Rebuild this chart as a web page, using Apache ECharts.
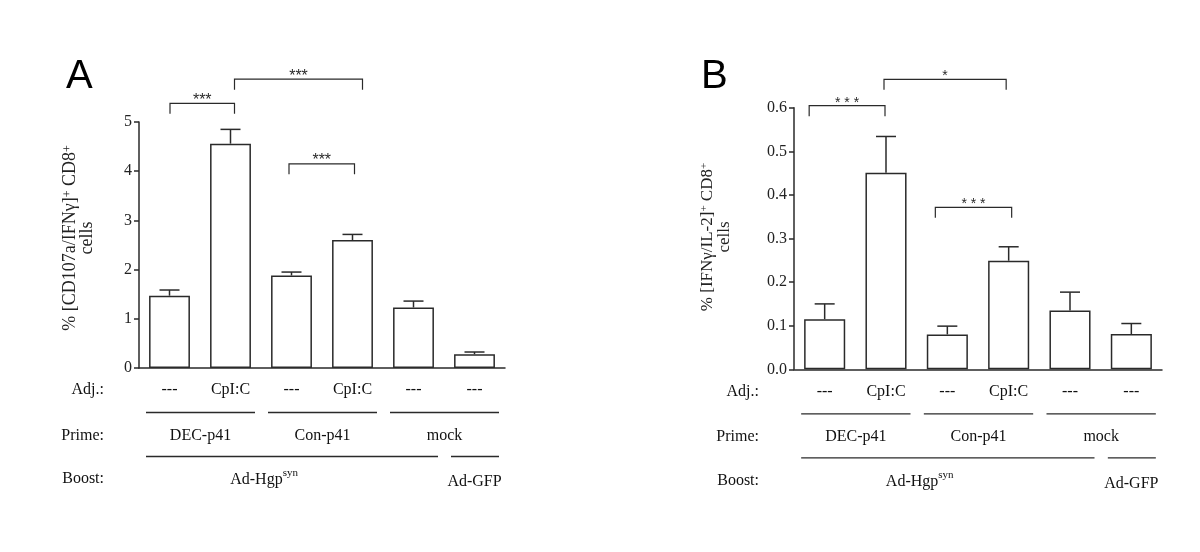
<!DOCTYPE html>
<html><head><meta charset="utf-8">
<script src="https://cdn.jsdelivr.net/npm/echarts@6/dist/echarts.min.js"></script>
<style>html,body{margin:0;padding:0;background:#fff}#c{width:1200px;height:552px}</style>
</head><body><div id="c"></div>
<script>
// ---------- data ----------
const adjLabels = ['---', 'CpI:C', '---', 'CpI:C', '---', '---'];
const primeGroups = [['DEC-p41', 0, 1], ['Con-p41', 2, 3], ['mock', 4, 5]];
const boostGroups = [['Ad-Hgp', 'syn', 0, 4], ['Ad-GFP', '', 5, 5]];
const rowTitles = ['Adj.:', 'Prime:', 'Boost:'];

const meanA = [1.47, 4.56, 1.88, 2.60, 1.23, 0.28];
const errA  = [0.115, 0.29, 0.07, 0.115, 0.13, 0.045];
const meanB = [0.115, 0.451, 0.080, 0.249, 0.135, 0.081];
const errB  = [0.035, 0.083, 0.019, 0.032, 0.042, 0.024];

const compA = [[0, 1, '***'], [1, 3, '***'], [2, 3, '***']];
const compB = [[0, 1, '***'], [1, 3, '*'], [2, 3, '***']];

const ticksA = ['0', '1', '2', '3', '4', '5'];
const ticksB = ['0.0', '0.1', '0.2', '0.3', '0.4', '0.5', '0.6'];

const yTitleA = '% [CD107a/IFNγ]';
const yTitleB = '% [IFNγ/IL-2]';

// ---------- layout / style ----------
const SERIF = '"Liberation Serif","Times New Roman",serif';
const SANS = '"Liberation Sans",Arial,sans-serif';
const INK = '#2a2a2a';
const LW = 1.5;

// bracket layout: [level (data units), x offset start px, x offset end px]
const brLayoutA = [[5.38, 0.5, 4], [5.87, 4, 10], [4.15, -2.5, 2]];
const brLayoutB = [[0.6046, -15.5, -1], [0.665, -2, -2.5], [0.3716, -12, 3]];
const boostLabelAt = [1.55, 5];

const chart = echarts.init(document.getElementById('c'));

function errRender(means, errs) {
  return function (params, api) {
    const i = params.dataIndex;
    const p0 = api.coord([i, means[i]]);
    const p1 = api.coord([i, means[i] + errs[i]]);
    const hw = 10;
    return {
      type: 'group', children: [
        { type: 'line', shape: { x1: p0[0], y1: p0[1], x2: p1[0], y2: p1[1] }, style: { stroke: INK, lineWidth: LW } },
        { type: 'line', shape: { x1: p1[0] - hw, y1: p1[1], x2: p1[0] + hw, y2: p1[1] }, style: { stroke: INK, lineWidth: LW } }
      ]
    };
  };
}

function bracketRender(comps, layout, starFont, sep) {
  return function (params, api) {
    const k = params.dataIndex;
    const c = comps[k], L = layout[k];
    const a = api.coord([c[0], L[0]]);
    const b = api.coord([c[1], L[0]]);
    const x1 = a[0] + L[1], x2 = b[0] + L[2], y = a[1];
    const leg = 10.5;
    return {
      type: 'group', children: [
        { type: 'polyline', shape: { points: [[x1, y + leg], [x1, y], [x2, y], [x2, y + leg]] }, style: { stroke: INK, lineWidth: 1.2, fill: null } },
        { type: 'text', style: { text: c[2].split('').join(sep), x: (x1 + x2) / 2, y: y - 3, align: 'center', verticalAlign: 'middle', font: starFont, fill: INK } }
      ]
    };
  };
}

function tableRender(params, api) {
  const cs = params.coordSys;
  const y0 = api.coord([0, 0])[1];
  const cx = (i) => api.coord([i, 0])[0];
  const children = [];
  const seg = (from, to, y) => ({ type: 'line', shape: { x1: cx(from) - 23.5, y1: y, x2: cx(to) + 24.5, y2: y }, style: { stroke: INK, lineWidth: 1.3 } });
  const txt = (t, x, y, align) => ({ type: 'text', style: { text: t, x: x, y: y, align: align || 'center', verticalAlign: 'middle', font: '16px ' + SERIF, fill: '#111' } });
  const tx = cs.x - 35;
  children.push(txt(rowTitles[0], tx, y0 + 22, 'right'));
  children.push(txt(rowTitles[1], tx, y0 + 67.5, 'right'));
  children.push(txt(rowTitles[2], tx, y0 + 111, 'right'));
  primeGroups.forEach(g => {
    children.push(seg(g[1], g[2], y0 + 44.5));
    const mid = ((cx(g[1]) - 23.5) + (cx(g[2]) + 24.5)) / 2;
    children.push(txt(g[0], mid, y0 + 67.5));
  });
  boostGroups.forEach((g, k) => {
    children.push(seg(g[2], g[3], y0 + 88.5));
    const at = boostLabelAt[k];
    const x = cx(Math.floor(at)) + (at - Math.floor(at)) * (cx(1) - cx(0));
    children.push({
      type: 'text', style: {
        text: g[1] ? '{n|' + g[0] + '}{s|' + g[1] + '}' : '{n|' + g[0] + '}',
        x: x, y: y0 + (g[1] ? 110 : 112), align: 'center', verticalAlign: 'middle', fill: '#111',
        rich: {
          n: { fontSize: 16, fontFamily: SERIF, lineHeight: 20, verticalAlign: 'bottom', fill: '#111' },
          s: { fontSize: 11, fontFamily: SERIF, lineHeight: 11, verticalAlign: 'top', fill: '#111' }
        }
      }
    });
  });
  return { type: 'group', children: children };
}

function yName(main) {
  return '{t|' + main + '}{s|+}{t| CD8}{s|+}\n{t|cells}';
}
function nameRich(fs) {
  return {
    t: { fontSize: fs, fontFamily: SERIF, color: '#222', lineHeight: 17 },
    s: { fontSize: Math.round(fs * 0.65), fontFamily: SERIF, color: '#222', lineHeight: 11, verticalAlign: 'top' }
  };
}

function yAxisCfg(idx, max, interval, ticks, name, gap, fs, shift) {
  return {
    type: 'value', gridIndex: idx, min: 0, max: max, interval: interval,
    name: name, nameLocation: 'middle', nameRotate: 90, nameGap: gap,
    nameTextStyle: { rich: nameRich(fs), align: 'center', padding: [0, 0, 0, shift] },
    axisLine: { show: true, lineStyle: { color: INK, width: LW } },
    axisTick: { show: true, length: 5, lineStyle: { color: INK, width: LW } },
    axisLabel: {
      margin: 7, fontSize: 16, fontFamily: SERIF, color: '#222',
      formatter: (v) => ticks[Math.round(v / interval)]
    },
    splitLine: { show: false }
  };
}
function xAxisCfg(idx) {
  return {
    type: 'category', gridIndex: idx, data: adjLabels.map((_, i) => 'c' + i),
    axisLine: { show: true, lineStyle: { color: INK, width: LW } },
    axisTick: { show: false },
    axisLabel: {
      margin: 22, verticalAlign: 'middle', fontSize: 16, fontFamily: SERIF, color: '#111',
      interval: 0, formatter: (v, i) => adjLabels[i]
    },
    splitLine: { show: false }
  };
}

const barStyle = { color: '#fff', borderColor: INK, borderWidth: LW };

chart.setOption({
  animation: false,
  backgroundColor: '#fff',
  grid: [
    { left: 139, top: 122, width: 366, height: 246, outerBoundsMode: 'none', containLabel: false },
    { left: 794, top: 107.7, width: 368, height: 261.6, outerBoundsMode: 'none', containLabel: false }
  ],
  xAxis: [xAxisCfg(0), xAxisCfg(1)],
  yAxis: [
    yAxisCfg(0, 5, 1, ticksA, yName(yTitleA), 43, 18, 14),
    yAxisCfg(1, 0.6, 0.1, ticksB, yName(yTitleB), 61, 17, 3)
  ],
  graphic: [
    { type: 'text', left: 66, top: 57, style: { text: 'A', font: '40px ' + SANS, fill: '#000' } },
    { type: 'text', left: 701, top: 57, style: { text: 'B', font: '40px ' + SANS, fill: '#000' } }
  ],
  series: [
    { type: 'bar', xAxisIndex: 0, yAxisIndex: 0, data: meanA, barWidth: '67%', itemStyle: barStyle, silent: true },
    { type: 'custom', xAxisIndex: 0, yAxisIndex: 0, data: meanA.map((m, i) => [i, m]), renderItem: errRender(meanA, errA), clip: false, silent: true, z: 5 },
    { type: 'custom', xAxisIndex: 0, yAxisIndex: 0, data: compA.map((c) => [c[0], 0]), renderItem: bracketRender(compA, brLayoutA, '16px ' + SANS, ''), clip: false, silent: true },
    { type: 'custom', xAxisIndex: 0, yAxisIndex: 0, data: [[0, 0]], renderItem: tableRender, clip: false, silent: true },

    { type: 'bar', xAxisIndex: 1, yAxisIndex: 1, data: meanB, barWidth: '67%', itemStyle: barStyle, silent: true },
    { type: 'custom', xAxisIndex: 1, yAxisIndex: 1, data: meanB.map((m, i) => [i, m]), renderItem: errRender(meanB, errB), clip: false, silent: true, z: 5 },
    { type: 'custom', xAxisIndex: 1, yAxisIndex: 1, data: compB.map((c) => [c[0], 0]), renderItem: bracketRender(compB, brLayoutB, '14px ' + SANS, ' '), clip: false, silent: true },
    { type: 'custom', xAxisIndex: 1, yAxisIndex: 1, data: [[0, 0]], renderItem: tableRender, clip: false, silent: true }
  ]
});
</script>
</body></html>
